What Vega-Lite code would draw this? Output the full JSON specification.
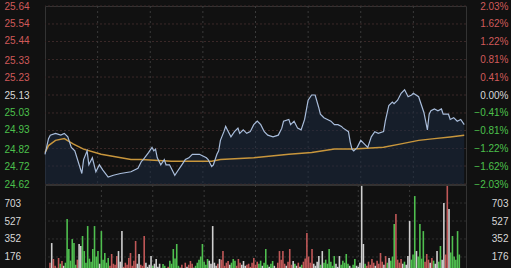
{
  "$schema": "https://vega.github.io/schema/vega-lite/v6.json",
  "background": "#111111",
  "padding": {"left": 3, "right": 4, "top": 0, "bottom": 0},
  "bounds": "flush",
  "spacing": 1,
  "config": {
    "view": {"stroke": "#333333"},
    "axis": {"domain": false, "ticks": false, "grid": false, "labelFont": "Liberation Sans", "labelFontSize": 10, "title": null, "labelOverlap": false}
  },
  "datasets": {
    "pctgrid": [{"pct": 2.03}, {"pct": 1.62}, {"pct": 1.22}, {"pct": 0.81}, {"pct": 0.41}, {"pct": 0}, {"pct": -0.41}, {"pct": -0.81}, {"pct": -1.22}, {"pct": -1.62}, {"pct": -2.03}],
    "vlines": [{"t": 30}, {"t": 60}, {"t": 90}, {"t": 120}, {"t": 150}, {"t": 180}, {"t": 210}],
    "volgrid": [{"v": 176}, {"v": 352}, {"v": 527}, {"v": 703}],
    "price": [
      {"t":0,"p":24.79},{"t":2,"p":24.88},{"t":3,"p":24.90},{"t":6,"p":24.91},{"t":9,"p":24.90},{"t":11,"p":24.91},{"t":13,"p":24.89},{"t":14,"p":24.86},{"t":15,"p":24.83},{"t":17,"p":24.81},{"t":21,"p":24.68},{"t":22,"p":24.76},{"t":24,"p":24.81},{"t":25,"p":24.73},{"t":27,"p":24.77},{"t":29,"p":24.69},{"t":31,"p":24.73},{"t":33,"p":24.70},{"t":36,"p":24.66},{"t":39,"p":24.67},{"t":43,"p":24.68},{"t":49,"p":24.69},{"t":53,"p":24.71},{"t":55,"p":24.75},{"t":56,"p":24.76},{"t":59,"p":24.80},{"t":61,"p":24.83},{"t":62,"p":24.81},{"t":63,"p":24.82},{"t":64,"p":24.77},{"t":66,"p":24.73},{"t":68,"p":24.76},{"t":69,"p":24.73},{"t":71,"p":24.73},{"t":73,"p":24.69},{"t":74,"p":24.67},{"t":76,"p":24.70},{"t":78,"p":24.73},{"t":80,"p":24.76},{"t":82,"p":24.77},{"t":84,"p":24.79},{"t":88,"p":24.79},{"t":90,"p":24.78},{"t":92,"p":24.77},{"t":93,"p":24.76},{"t":95,"p":24.72},{"t":96,"p":24.73},{"t":98,"p":24.79},{"t":99,"p":24.81},{"t":100,"p":24.87},{"t":102,"p":24.92},{"t":103,"p":24.95},{"t":104,"p":24.93},{"t":106,"p":24.89},{"t":108,"p":24.92},{"t":110,"p":24.94},{"t":111,"p":24.91},{"t":113,"p":24.93},{"t":115,"p":24.91},{"t":117,"p":24.92},{"t":119,"p":24.96},{"t":121,"p":24.98},{"t":123,"p":24.96},{"t":125,"p":24.92},{"t":127,"p":24.90},{"t":130,"p":24.89},{"t":133,"p":24.90},{"t":135,"p":24.94},{"t":136,"p":24.98},{"t":139,"p":24.99},{"t":140,"p":24.96},{"t":142,"p":24.98},{"t":144,"p":24.94},{"t":146,"p":24.93},{"t":148,"p":24.99},{"t":150,"p":25.10},{"t":152,"p":25.13},{"t":154,"p":25.13},{"t":156,"p":25.06},{"t":157,"p":25.02},{"t":159,"p":25.00},{"t":161,"p":24.99},{"t":163,"p":24.98},{"t":165,"p":24.96},{"t":167,"p":24.96},{"t":169,"p":24.95},{"t":170,"p":24.94},{"t":173,"p":24.92},{"t":174,"p":24.86},{"t":175,"p":24.82},{"t":176,"p":24.81},{"t":178,"p":24.83},{"t":180,"p":24.87},{"t":182,"p":24.85},{"t":184,"p":24.83},{"t":186,"p":24.89},{"t":188,"p":24.92},{"t":190,"p":24.91},{"t":193,"p":24.92},{"t":194,"p":24.98},{"t":196,"p":25.07},{"t":198,"p":25.09},{"t":199,"p":25.08},{"t":201,"p":25.10},{"t":203,"p":25.14},{"t":205,"p":25.16},{"t":207,"p":25.12},{"t":209,"p":25.13},{"t":210,"p":25.14},{"t":213,"p":25.12},{"t":214,"p":25.09},{"t":216,"p":25.03},{"t":218,"p":24.93},{"t":219,"p":25.02},{"t":220,"p":25.04},{"t":222,"p":25.05},{"t":224,"p":25.04},{"t":226,"p":25.05},{"t":227,"p":25.02},{"t":230,"p":25.02},{"t":231,"p":24.99},{"t":233,"p":25.00},{"t":235,"p":24.98},{"t":237,"p":24.99},{"t":239,"p":24.96}
    ],
    "avg": [
      {"t":0,"p":24.80},{"t":2,"p":24.84},{"t":6,"p":24.87},{"t":11,"p":24.88},{"t":16,"p":24.85},{"t":22,"p":24.82},{"t":32,"p":24.79},{"t":49,"p":24.76},{"t":55,"p":24.76},{"t":72,"p":24.75},{"t":95,"p":24.75},{"t":100,"p":24.76},{"t":119,"p":24.77},{"t":139,"p":24.79},{"t":152,"p":24.80},{"t":165,"p":24.82},{"t":176,"p":24.82},{"t":193,"p":24.83},{"t":203,"p":24.85},{"t":213,"p":24.87},{"t":222,"p":24.88},{"t":231,"p":24.89},{"t":239,"p":24.90}
    ],
    "vol": [
      {"t":0,"v":120,"c":"d"},{"t":1,"v":312,"c":"f"},{"t":2,"v":156,"c":"d"},{"t":3,"v":90,"c":"d"},{"t":4,"v":70,"c":"d"},{"t":5,"v":166,"c":"d"},{"t":6,"v":110,"c":"u"},{"t":7,"v":137,"c":"d"},{"t":8,"v":90,"c":"f"},{"t":9,"v":120,"c":"u"},
      {"t":10,"v":547,"c":"u"},{"t":11,"v":254,"c":"u"},{"t":12,"v":140,"c":"u"},{"t":13,"v":351,"c":"u"},{"t":14,"v":312,"c":"u"},{"t":15,"v":100,"c":"u"},{"t":16,"v":150,"c":"d"},{"t":17,"v":303,"c":"f"},{"t":18,"v":283,"c":"f"},{"t":19,"v":381,"c":"u"},
      {"t":20,"v":234,"c":"u"},{"t":21,"v":120,"c":"u"},{"t":22,"v":478,"c":"u"},{"t":23,"v":160,"c":"u"},{"t":24,"v":130,"c":"u"},{"t":25,"v":254,"c":"u"},{"t":26,"v":478,"c":"u"},{"t":27,"v":180,"c":"u"},{"t":28,"v":234,"c":"u"},{"t":29,"v":110,"c":"f"},
      {"t":30,"v":429,"c":"u"},{"t":31,"v":150,"c":"u"},{"t":32,"v":215,"c":"u"},{"t":33,"v":120,"c":"u"},{"t":34,"v":166,"c":"u"},{"t":35,"v":90,"c":"d"},{"t":36,"v":205,"c":"d"},{"t":37,"v":110,"c":"d"},{"t":38,"v":100,"c":"d"},{"t":39,"v":185,"c":"d"},
      {"t":40,"v":234,"c":"f"},{"t":41,"v":130,"c":"f"},{"t":42,"v":429,"c":"f"},{"t":43,"v":80,"c":"d"},{"t":44,"v":120,"c":"d"},{"t":45,"v":100,"c":"d"},{"t":46,"v":166,"c":"d"},{"t":47,"v":215,"c":"d"},{"t":48,"v":90,"c":"d"},{"t":49,"v":140,"c":"d"},
      {"t":50,"v":332,"c":"d"},{"t":51,"v":110,"c":"f"},{"t":52,"v":205,"c":"f"},{"t":53,"v":100,"c":"d"},{"t":54,"v":90,"c":"d"},{"t":55,"v":381,"c":"d"},{"t":56,"v":120,"c":"f"},{"t":57,"v":80,"c":"f"},{"t":58,"v":100,"c":"f"},{"t":59,"v":185,"c":"f"},
      {"t":60,"v":90,"c":"u"},{"t":61,"v":110,"c":"f"},{"t":62,"v":156,"c":"f"},{"t":63,"v":80,"c":"f"},{"t":64,"v":110,"c":"f"},{"t":65,"v":70,"c":"u"},{"t":66,"v":107,"c":"u"},{"t":67,"v":90,"c":"u"},{"t":68,"v":60,"c":"u"},{"t":69,"v":80,"c":"d"},
      {"t":70,"v":140,"c":"u"},{"t":71,"v":110,"c":"u"},{"t":72,"v":254,"c":"u"},{"t":73,"v":160,"c":"u"},{"t":74,"v":303,"c":"u"},{"t":75,"v":90,"c":"u"},{"t":76,"v":70,"c":"f"},{"t":77,"v":100,"c":"d"},{"t":78,"v":60,"c":"d"},{"t":79,"v":120,"c":"d"},
      {"t":80,"v":80,"c":"f"},{"t":81,"v":100,"c":"d"},{"t":82,"v":137,"c":"d"},{"t":83,"v":110,"c":"d"},{"t":84,"v":70,"c":"f"},{"t":85,"v":90,"c":"u"},{"t":86,"v":120,"c":"u"},{"t":87,"v":150,"c":"u"},{"t":88,"v":180,"c":"u"},{"t":89,"v":303,"c":"u"},
      {"t":90,"v":130,"c":"u"},{"t":91,"v":100,"c":"u"},{"t":92,"v":156,"c":"u"},{"t":93,"v":140,"c":"f"},{"t":94,"v":110,"c":"f"},{"t":95,"v":478,"c":"f"},{"t":96,"v":120,"c":"f"},{"t":97,"v":90,"c":"f"},{"t":98,"v":110,"c":"d"},{"t":99,"v":156,"c":"f"},
      {"t":100,"v":150,"c":"d"},{"t":101,"v":234,"c":"d"},{"t":102,"v":90,"c":"d"},{"t":103,"v":120,"c":"d"},{"t":104,"v":137,"c":"d"},{"t":105,"v":100,"c":"f"},{"t":106,"v":120,"c":"u"},{"t":107,"v":156,"c":"u"},{"t":108,"v":140,"c":"u"},{"t":109,"v":90,"c":"d"},
      {"t":110,"v":156,"c":"d"},{"t":111,"v":120,"c":"d"},{"t":112,"v":100,"c":"f"},{"t":113,"v":137,"c":"f"},{"t":114,"v":90,"c":"f"},{"t":115,"v":100,"c":"d"},{"t":116,"v":110,"c":"d"},{"t":117,"v":80,"c":"d"},{"t":118,"v":120,"c":"d"},{"t":119,"v":166,"c":"d"},
      {"t":120,"v":100,"c":"d"},{"t":121,"v":130,"c":"d"},{"t":122,"v":110,"c":"u"},{"t":123,"v":140,"c":"u"},{"t":124,"v":90,"c":"f"},{"t":125,"v":120,"c":"u"},{"t":126,"v":254,"c":"u"},{"t":127,"v":100,"c":"u"},{"t":128,"v":80,"c":"f"},{"t":129,"v":110,"c":"u"},
      {"t":130,"v":137,"c":"u"},{"t":131,"v":90,"c":"f"},{"t":132,"v":70,"c":"d"},{"t":133,"v":120,"c":"d"},{"t":134,"v":234,"c":"d"},{"t":135,"v":150,"c":"d"},{"t":136,"v":234,"c":"d"},{"t":137,"v":110,"c":"d"},{"t":138,"v":90,"c":"f"},{"t":139,"v":130,"c":"d"},
      {"t":140,"v":254,"c":"d"},{"t":141,"v":100,"c":"d"},{"t":142,"v":137,"c":"f"},{"t":143,"v":110,"c":"u"},{"t":144,"v":90,"c":"f"},{"t":145,"v":120,"c":"d"},{"t":146,"v":80,"c":"f"},{"t":147,"v":100,"c":"u"},{"t":148,"v":130,"c":"d"},{"t":149,"v":160,"c":"d"},
      {"t":150,"v":410,"c":"d"},{"t":151,"v":180,"c":"d"},{"t":152,"v":120,"c":"d"},{"t":153,"v":254,"c":"d"},{"t":154,"v":110,"c":"f"},{"t":155,"v":90,"c":"f"},{"t":156,"v":130,"c":"f"},{"t":157,"v":185,"c":"f"},{"t":158,"v":100,"c":"u"},{"t":159,"v":234,"c":"f"},
      {"t":160,"v":120,"c":"u"},{"t":161,"v":150,"c":"u"},{"t":162,"v":110,"c":"u"},{"t":163,"v":254,"c":"u"},{"t":164,"v":130,"c":"u"},{"t":165,"v":90,"c":"u"},{"t":166,"v":185,"c":"u"},{"t":167,"v":110,"c":"f"},{"t":168,"v":80,"c":"f"},{"t":169,"v":185,"c":"f"},
      {"t":170,"v":100,"c":"u"},{"t":171,"v":140,"c":"u"},{"t":172,"v":120,"c":"u"},{"t":173,"v":205,"c":"u"},{"t":174,"v":110,"c":"u"},{"t":175,"v":90,"c":"f"},{"t":176,"v":70,"c":"f"},{"t":177,"v":100,"c":"u"},{"t":178,"v":156,"c":"u"},{"t":179,"v":90,"c":"f"},
      {"t":180,"v":80,"c":"f"},{"t":181,"v":120,"c":"f"},{"t":182,"v":870,"c":"f"},{"t":183,"v":303,"c":"f"},{"t":184,"v":110,"c":"u"},{"t":185,"v":90,"c":"d"},{"t":186,"v":130,"c":"d"},{"t":187,"v":100,"c":"d"},{"t":188,"v":156,"c":"d"},{"t":189,"v":120,"c":"d"},
      {"t":190,"v":90,"c":"f"},{"t":191,"v":140,"c":"d"},{"t":192,"v":110,"c":"d"},{"t":193,"v":215,"c":"d"},{"t":194,"v":130,"c":"d"},{"t":195,"v":100,"c":"f"},{"t":196,"v":185,"c":"d"},{"t":197,"v":120,"c":"u"},{"t":198,"v":166,"c":"f"},{"t":199,"v":140,"c":"u"},
      {"t":200,"v":180,"c":"u"},{"t":201,"v":498,"c":"u"},{"t":202,"v":595,"c":"d"},{"t":203,"v":150,"c":"d"},{"t":204,"v":120,"c":"d"},{"t":205,"v":156,"c":"d"},{"t":206,"v":110,"c":"f"},{"t":207,"v":130,"c":"u"},{"t":208,"v":100,"c":"f"},{"t":209,"v":185,"c":"f"},
      {"t":210,"v":527,"c":"f"},{"t":211,"v":150,"c":"u"},{"t":212,"v":200,"c":"u"},{"t":213,"v":771,"c":"u"},{"t":214,"v":234,"c":"f"},{"t":215,"v":180,"c":"u"},{"t":216,"v":498,"c":"u"},{"t":217,"v":160,"c":"u"},{"t":218,"v":429,"c":"u"},{"t":219,"v":130,"c":"d"},
      {"t":220,"v":205,"c":"d"},{"t":221,"v":150,"c":"d"},{"t":222,"v":120,"c":"f"},{"t":223,"v":166,"c":"d"},{"t":224,"v":140,"c":"u"},{"t":225,"v":110,"c":"f"},{"t":226,"v":234,"c":"f"},{"t":227,"v":130,"c":"u"},{"t":228,"v":283,"c":"u"},{"t":229,"v":150,"c":"f"},
      {"t":230,"v":703,"c":"f"},{"t":231,"v":200,"c":"d"},{"t":232,"v":870,"c":"d"},{"t":233,"v":644,"c":"f"},{"t":234,"v":220,"c":"u"},{"t":235,"v":381,"c":"u"},{"t":236,"v":180,"c":"u"},{"t":237,"v":150,"c":"u"},{"t":238,"v":429,"c":"u"},{"t":239,"v":200,"c":"u"}
    ]
  },
  "vconcat": [
    {
      "width": 421,
      "height": 178,
      "layer": [
        {
          "data": {"name": "pctgrid"},
          "mark": {"type": "rule", "color": "#3a2828", "strokeDash": [2, 2]},
          "encoding": {
            "y": {
              "field": "pct", "type": "quantitative",
              "scale": {"domain": [-2.03, 2.03], "nice": false, "zero": false},
              "axis": {
                "orient": "right",
                "values": [2.03, 1.62, 1.22, 0.81, 0.41, 0, -0.41, -0.81, -1.22, -1.62, -2.03],
                "labelExpr": "format(datum.value, '.2f') + '%'",
                "labelAlign": "right",
                "labelPadding": 42,
                "labelOverlap": false,
                "labelColor": {"condition": [{"test": "datum.value > 0.001", "value": "#d05a5a"}, {"test": "datum.value < -0.001", "value": "#4cc04c"}], "value": "#d8d8d8"}
              }
            }
          }
        },
        {
          "data": {"name": "vlines"},
          "mark": {"type": "rule", "color": "#3a3a3a", "strokeDash": [2, 3]},
          "encoding": {
            "x": {"field": "t", "type": "quantitative", "scale": {"domain": [0, 240], "nice": false, "zero": false}, "axis": null}
          }
        },
        {
          "data": {"name": "price"},
          "mark": {"type": "area", "color": "#1c2a40", "opacity": 0.55},
          "encoding": {
            "x": {"field": "t", "type": "quantitative", "scale": {"domain": [0, 240], "nice": false, "zero": false}, "axis": null},
            "y": {
              "field": "p", "type": "quantitative",
              "scale": {"domain": [24.62, 25.64], "nice": false, "zero": false},
              "axis": {
                "orient": "left",
                "values": [24.62, 24.72, 24.82, 24.93, 25.03, 25.13, 25.23, 25.33, 25.44, 25.54, 25.64],
                "format": ".2f",
                "labelAlign": "left",
                "labelPadding": 41,
                "labelOverlap": false,
                "labelColor": {"condition": [{"test": "datum.value > 25.135", "value": "#d05a5a"}, {"test": "datum.value < 25.125", "value": "#4cc04c"}], "value": "#d8d8d8"}
              }
            },
            "y2": {"datum": 24.62}
          }
        },
        {
          "data": {"name": "avg"},
          "mark": {"type": "line", "color": "#c8963c", "strokeWidth": 1.5},
          "encoding": {
            "x": {"field": "t", "type": "quantitative"},
            "y": {"field": "p", "type": "quantitative", "scale": {"domain": [24.62, 25.64], "nice": false, "zero": false}, "axis": null}
          }
        },
        {
          "data": {"name": "price"},
          "mark": {"type": "line", "color": "#a9bddb", "strokeWidth": 1.2},
          "encoding": {
            "x": {"field": "t", "type": "quantitative"},
            "y": {"field": "p", "type": "quantitative", "scale": {"domain": [24.62, 25.64], "nice": false, "zero": false}, "axis": null}
          }
        }
      ],
      "resolve": {"scale": {"y": "independent"}}
    },
    {
      "width": 421,
      "height": 90,
      "layer": [
        {
          "data": {"name": "volgrid"},
          "mark": {"type": "rule", "color": "#2e2e2e", "strokeDash": [2, 2]},
          "encoding": {
            "y": {
              "field": "v", "type": "quantitative",
              "scale": {"domain": [0, 879], "nice": false},
              "axis": {"orient": "left", "values": [176, 352, 527, 703], "labelAlign": "left", "labelPadding": 41, "labelOverlap": false, "labelColor": "#d8d8d8"}
            }
          }
        },
        {
          "data": {"name": "vlines"},
          "mark": {"type": "rule", "color": "#3a3a3a", "strokeDash": [2, 3]},
          "encoding": {
            "x": {"field": "t", "type": "quantitative", "scale": {"domain": [0, 240], "nice": false, "zero": false}, "axis": null}
          }
        },
        {
          "data": {"name": "vol"},
          "mark": {"type": "bar", "size": 1.6},
          "encoding": {
            "x": {"field": "t", "type": "quantitative", "scale": {"domain": [0, 240], "nice": false, "zero": false}, "axis": null},
            "y": {
              "field": "v", "type": "quantitative",
              "scale": {"domain": [0, 879], "nice": false},
              "axis": {"orient": "right", "values": [176, 352, 527, 703], "labelAlign": "right", "labelPadding": 42, "labelOverlap": false, "labelColor": "#d8d8d8"}
            },
            "color": {"field": "c", "type": "nominal", "scale": {"domain": ["u", "d", "f"], "range": ["#4fbf4f", "#c05858", "#cfcfcf"]}, "legend": null}
          }
        }
      ],
      "resolve": {"scale": {"y": "independent"}}
    }
  ]
}
